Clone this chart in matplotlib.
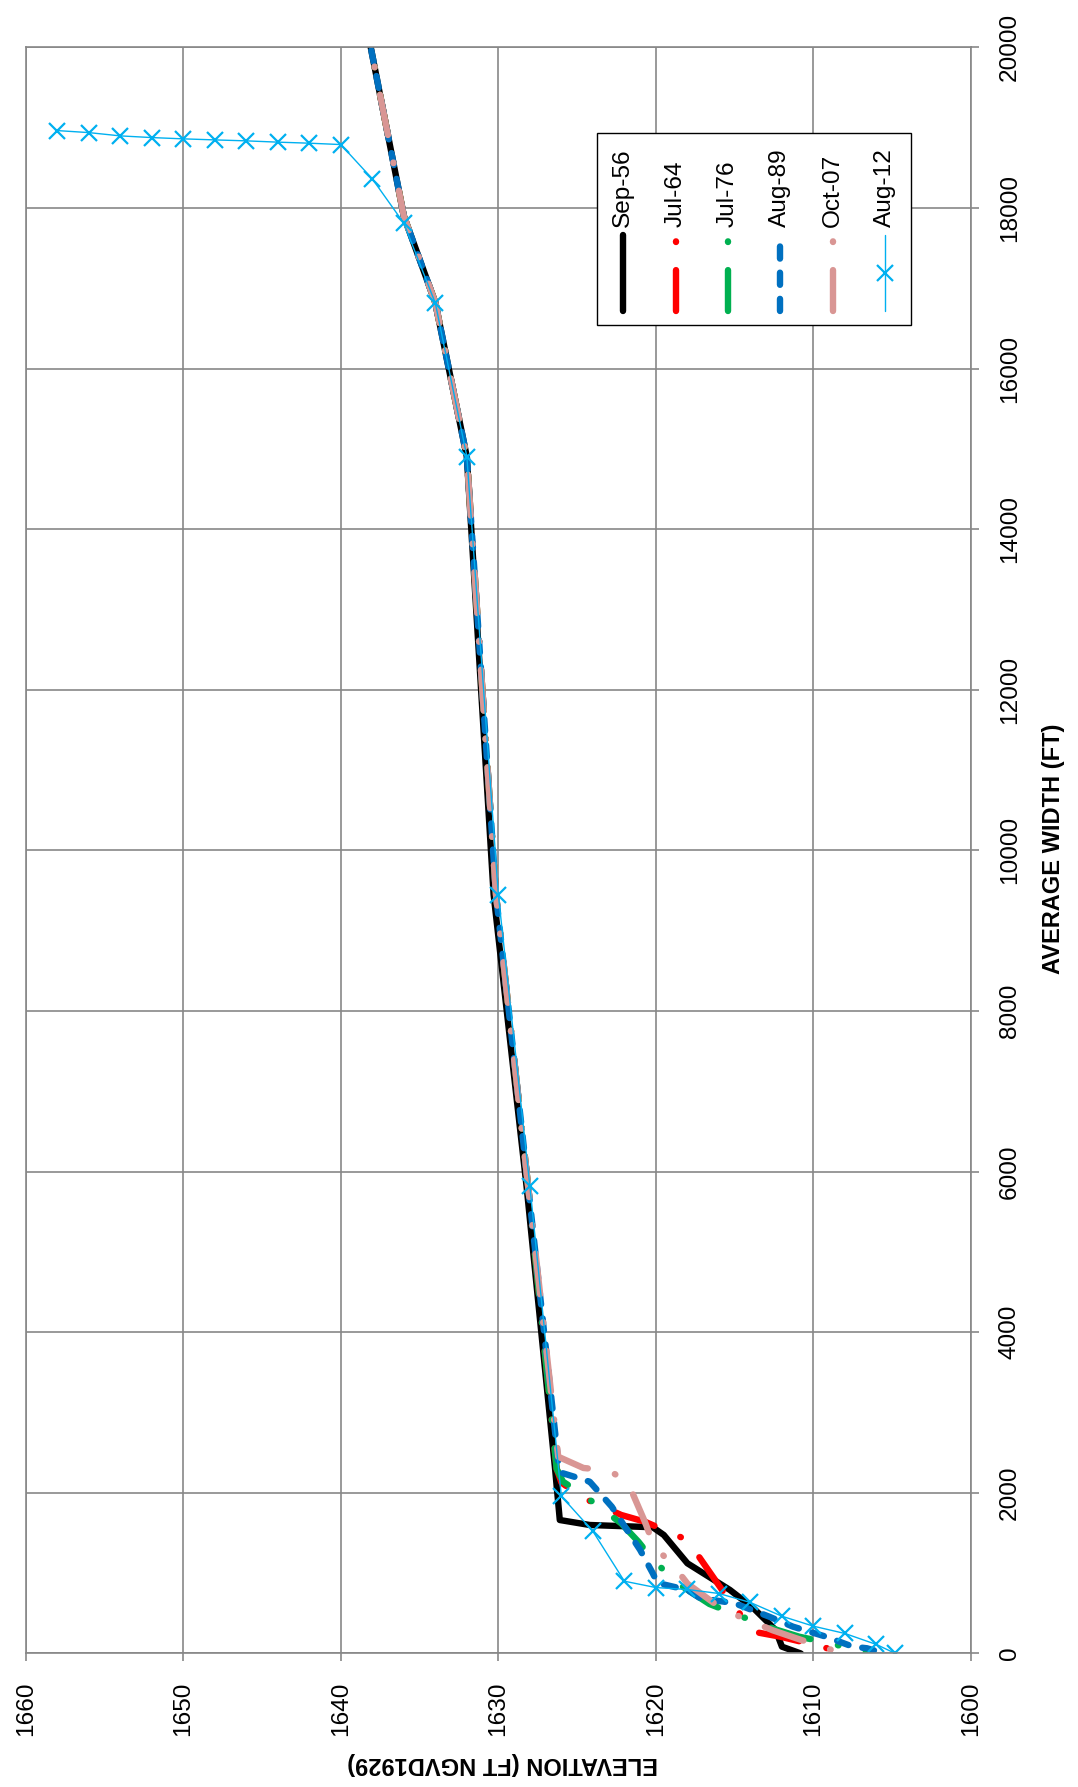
import matplotlib
matplotlib.use("Agg")
import matplotlib.pyplot as plt

plt.rcParams["font.family"] = ["Liberation Sans", "DejaVu Sans"]

# Elevation (ft NGVD1929) vs average width (ft), one pair of lists per survey
sep56_elev = [1640.0, 1638.1, 1636.0, 1634.0, 1632.0, 1630.3, 1628.2, 1626.4,
              1626.1, 1624.2, 1620.2, 1619.5, 1618.0, 1615.3, 1613.8, 1612.4,
              1612.0, 1610.8]
sep56_width = [21800, 20000, 17900, 16820, 14900, 9450, 5800, 2300,
               1662, 1600, 1572, 1476, 1123, 791, 563, 292,
               85, 0]

jul64_elev = [1640.0, 1638.1, 1636.0, 1634.0, 1632.0, 1630.15, 1628.1, 1626.3,
              1626.0, 1624.8, 1622.2, 1620.7, 1618.0, 1617.1, 1615.5, 1613.8,
              1612.1, 1610.0, 1608.3, 1607.9]
jul64_width = [21800, 20000, 17900, 16820, 14900, 9450, 5800, 2300,
               2130, 1953, 1725, 1641, 1413, 1158, 707, 271,
               209, 110, 22, 0]

jul76_elev = [1640.0, 1638.1, 1636.0, 1634.0, 1632.0, 1630.15, 1628.1, 1626.3,
              1625.9, 1624.6, 1622.2, 1621.1, 1620.1, 1618.3, 1616.6, 1615.1,
              1612.3, 1610.9, 1609.4, 1606.7, 1606.5]
jul76_width = [21800, 20000, 17900, 16820, 14900, 9450, 5800, 2300,
               2140, 1974, 1620, 1390, 1143, 832, 616, 500,
               293, 209, 147, 22, 0]

aug89_elev = [1640.0, 1638.1, 1636.0, 1634.0, 1632.0, 1630.15, 1628.1, 1626.2,
              1626.0, 1625.2, 1624.2, 1622.8, 1621.0, 1620.2, 1619.9, 1618.9,
              1618.0, 1617.2, 1615.0, 1612.8, 1611.3, 1609.2, 1607.5, 1606.6,
              1605.5]
aug89_width = [21800, 20000, 17900, 16820, 14900, 9450, 5800, 2400,
               2250, 2202, 2139, 1828, 1289, 999, 878, 832,
               791, 690, 625, 458, 334, 209, 85, 65,
               0]

oct07_elev = [1640.0, 1638.1, 1636.0, 1634.0, 1632.0, 1630.15, 1628.1, 1626.2,
              1624.6, 1623.0, 1621.8, 1620.7, 1620.1, 1618.9, 1618.0, 1615.7,
              1614.1, 1612.6, 1611.1, 1608.3, 1608.1]
oct07_width = [21800, 20000, 17900, 16820, 14900, 9450, 5800, 2450,
               2310, 2280, 2140, 1640, 1330, 1100, 870, 540,
               415, 290, 190, 10, 0]

aug12_elev = [1658, 1656, 1654, 1652, 1650, 1648, 1646, 1644, 1642, 1640,
              1638, 1636, 1634, 1632, 1630, 1628, 1626, 1624, 1622, 1620,
              1618, 1616, 1614, 1612, 1610, 1608, 1606, 1604.8]
aug12_width = [18963, 18938, 18897, 18876, 18860, 18847, 18835, 18819, 18806, 18789,
               18362, 17810, 16814, 14904, 9446, 5822, 1958, 1522, 900, 821,
               797, 747, 635, 464, 340, 249, 112, 0]

elev_ticks = [1660, 1650, 1640, 1630, 1620, 1610, 1600]
width_ticks = [0, 2000, 4000, 6000, 8000, 10000, 12000, 14000, 16000, 18000, 20000]

LW = 4.6
LONG_DASH_DOT = (6.4, 4.4, 0.1, 4.4)
DASH = (1.9, 2.2)
GRID = "#878787"
FS = 17.6

series = [
    ("Sep-56", sep56_elev, sep56_width, dict(color="black", lw=LW, ls="-")),
    ("Jul-64", jul64_elev, jul64_width, dict(color="#FF0000", lw=LW, dashes=LONG_DASH_DOT)),
    ("Jul-76", jul76_elev, jul76_width, dict(color="#00B050", lw=LW, dashes=LONG_DASH_DOT)),
    ("Aug-89", aug89_elev, aug89_width, dict(color="#0070C0", lw=LW, dashes=DASH)),
    ("Oct-07", oct07_elev, oct07_width, dict(color="#D99694", lw=LW, dashes=LONG_DASH_DOT)),
    ("Aug-12", aug12_elev, aug12_width, dict(color="#00B0F0", lw=1.0, marker="x",
                                             ms=11, mew=1.6)),
]

fig = plt.figure(figsize=(10.78, 17.87), dpi=100)
ax = fig.add_axes([0.02384, 0.07471, 0.8769, 0.89882])

for name, el, wd, style in series:
    ax.plot(el, wd, dash_capstyle="round", solid_capstyle="round",
            solid_joinstyle="round", label=name, **style)

ax.set_xlim(1660, 1600)
ax.set_ylim(0, 20000)
ax.set_xticks(elev_ticks)
ax.set_yticks(width_ticks)
ax.yaxis.tick_right()
ax.grid(True, color=GRID, lw=1.2)
ax.set_axisbelow(True)
for sp in ax.spines.values():
    sp.set_color(GRID)
    sp.set_linewidth(1.2)
ax.tick_params(axis="x", direction="out", length=6, width=1.2, color=GRID,
               labelsize=FS, labelrotation=90, pad=14)
ax.tick_params(axis="y", direction="out", length=6, width=1.2, color=GRID,
               labelsize=FS, labelrotation=90, pad=14, left=False, right=True)
for lab in ax.get_yticklabels():
    lab.set_verticalalignment("center")

fig.text(0.466, 0.0129, "ELEVATION (FT NGVD1929)", rotation=180,
         ha="center", va="center", fontsize=17, fontweight="bold")
fig.text(0.9777, 0.5249, "AVERAGE WIDTH (FT)", rotation=90,
         ha="center", va="center", fontsize=17, fontweight="bold")

# legend drawn by hand: the whole chart is turned a quarter turn
box = plt.Rectangle((0.6040, 0.8271), 0.3325, 0.1197, transform=ax.transAxes,
                    facecolor="white", edgecolor="black", lw=1.0, zorder=10,
                    clip_on=False)
ax.add_patch(box)
x0, dx = 0.6322, 0.05533
y_lo, y_hi = 0.8358, 0.8831
for i, (name, el, wd, style) in enumerate(series):
    xc = x0 + i * dx
    st = dict(style)
    st.pop("marker", None)
    st.pop("ms", None)
    st.pop("mew", None)
    ax.plot([xc, xc], [y_lo, y_hi], transform=ax.transAxes, clip_on=False,
            zorder=11, dash_capstyle="round", solid_capstyle="round", **st)
    if name == "Aug-12":
        ax.plot([xc], [(y_lo + y_hi) / 2], transform=ax.transAxes,
                clip_on=False, zorder=12, color=style["color"], marker="x",
                ms=12, mew=1.6, ls="none")
    ax.text(xc, 0.888, name, transform=ax.transAxes, rotation=90,
            ha="center", va="bottom", fontsize=FS, zorder=12)

fig.savefig("out.png", dpi=100)
